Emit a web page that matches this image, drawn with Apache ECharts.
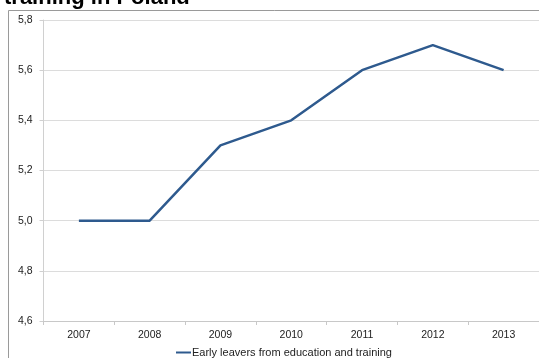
<!DOCTYPE html>
<html><head><meta charset="utf-8">
<script src="https://cdn.jsdelivr.net/npm/echarts@6/dist/echarts.min.js"></script>
<style>html,body{margin:0;padding:0;background:#fff}#c{width:539px;height:358px}</style>
</head><body><div id="c"></div>
<script>
var years = ['2007','2008','2009','2010','2011','2012','2013'];
var earlyLeavers = [5.0, 5.0, 5.3, 5.4, 5.6, 5.7, 5.6];
var seriesName = 'Early leavers from education and training';
var titleText = 'training in Poland';

var chart = echarts.init(document.getElementById('c'), null, {renderer:'canvas'});
chart.setOption({
  animation:false,
  backgroundColor:'#fff',
  title:{text:titleText,left:-1,top:-18,textStyle:{fontFamily:'Liberation Sans, Arial',fontWeight:'bold',fontSize:22,color:'#000'}},
  graphic:[{type:'rect',shape:{x:8.5,y:10.5,width:600,height:400},style:{fill:'none',stroke:'#9a9a9a',lineWidth:1},z:-1}],
  grid:{left:43.5,right:-8,top:20,bottom:37},
  legend:{left:171,top:342,itemWidth:15,itemHeight:2,itemGap:10,icon:'rect',
    textStyle:{fontFamily:'Liberation Sans, Arial',fontSize:11,color:'#222',padding:[0,0,0,-4]},
    data:[seriesName]},
  xAxis:{type:'category',data:years,boundaryGap:true,
    axisLine:{lineStyle:{color:'#c8c8c8'}},
    axisTick:{show:true,length:4,lineStyle:{color:'#c8c8c8'},alignWithLabel:false},
    axisLabel:{fontFamily:'Liberation Sans, Arial',fontSize:10.5,color:'#222',margin:9}},
  yAxis:{type:'value',min:4.6,max:5.8,interval:0.2,
    axisLine:{show:true,lineStyle:{color:'#d0d0d0'}},
    axisTick:{show:true,length:4,lineStyle:{color:'#d0d0d0'}},
    splitLine:{lineStyle:{color:'#dcdcdc'}},
    axisLabel:{fontFamily:'Liberation Sans, Arial',fontSize:10.5,color:'#222',margin:11,
      formatter:function(v){return v.toFixed(1).replace('.',',');}}},
  series:[{name:seriesName,type:'line',data:earlyLeavers,symbol:'none',
    lineStyle:{color:'#2e5a8e',width:2.5},itemStyle:{color:'#2e5a8e'}}]
});
</script></body></html>
